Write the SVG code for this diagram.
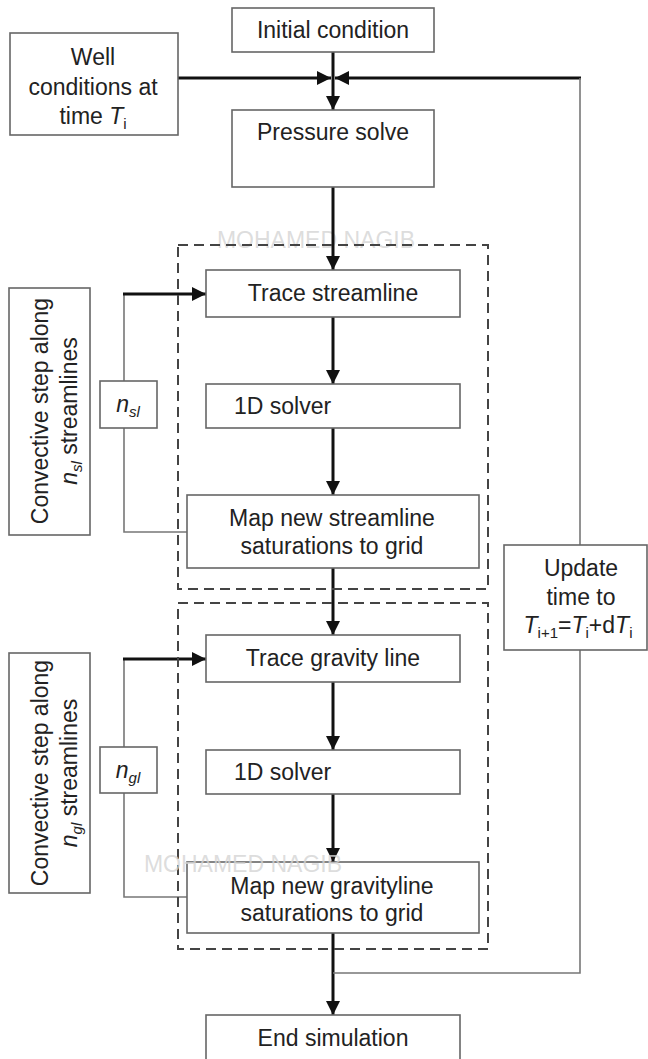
<svg xmlns="http://www.w3.org/2000/svg" width="648" height="1059" viewBox="0 0 648 1059">
<style>
.box{fill:#fff;stroke:#666;stroke-width:1.6}
.dash{fill:none;stroke:#444;stroke-width:2;stroke-dasharray:10,6}
.t{font-family:"Liberation Sans",Arial,sans-serif;font-size:23px;fill:#222}
.c{text-anchor:middle}
.thick{stroke:#111;stroke-width:3;fill:none}
.thin{stroke:#777;stroke-width:1.6;fill:none}
.wm{font-family:"Liberation Sans",Arial,sans-serif;font-size:23px;fill:#d4d4d4;fill-opacity:0.8}
.sub{font-size:15px}
</style>
<defs>
<marker id="ah" markerUnits="userSpaceOnUse" markerWidth="14" markerHeight="14" refX="14" refY="7" orient="auto">
<path d="M0,0 L14,7 L0,14 z" fill="#111"/>
</marker>
</defs>
<rect width="648" height="1059" fill="#fff"/>
<text class="wm" x="316" y="248" text-anchor="middle">MOHAMED NAGIB</text>
<g id="connectors">
<line class="thick" x1="333" y1="52" x2="333" y2="110" marker-end="url(#ah)"/>
<line class="thick" x1="178" y1="78" x2="331" y2="78" marker-end="url(#ah)"/>
<line class="thick" x1="581" y1="78" x2="335" y2="78" marker-end="url(#ah)"/>
<line class="thin" x1="580" y1="78" x2="580" y2="545"/>
<line class="thick" x1="333" y1="187" x2="333" y2="270" marker-end="url(#ah)"/>
<line class="thick" x1="333" y1="317" x2="333" y2="384" marker-end="url(#ah)"/>
<line class="thick" x1="333" y1="428" x2="333" y2="495" marker-end="url(#ah)"/>
<polyline class="thin" points="187,532 124,532 124,294"/>
<line class="thick" x1="123" y1="294" x2="206" y2="294" marker-end="url(#ah)"/>
<line class="thick" x1="333" y1="568" x2="333" y2="635" marker-end="url(#ah)"/>
<line class="thick" x1="333" y1="682" x2="333" y2="750" marker-end="url(#ah)"/>
<line class="thick" x1="333" y1="794" x2="333" y2="862" marker-end="url(#ah)"/>
<polyline class="thin" points="187,897 124,897 124,659"/>
<line class="thick" x1="123" y1="659" x2="206" y2="659" marker-end="url(#ah)"/>
<line class="thick" x1="333" y1="933" x2="333" y2="1015" marker-end="url(#ah)"/>
<polyline class="thin" points="580,650 580,973 333,973"/>
</g>
<g id="group1"><rect class="dash" x="178" y="245" width="310" height="344"/></g>
<g id="group2"><rect class="dash" x="178" y="603" width="310" height="346"/></g>
<g id="initial"><rect class="box" x="232" y="8" width="202" height="44"/><text class="t c" x="333" y="38">Initial condition</text></g>
<g id="well"><rect class="box" x="10" y="33" width="168" height="102"/>
<text class="t c" x="93" y="65">Well</text>
<text class="t c" x="93" y="95">conditions at</text>
<text class="t c" x="93" y="124">time <tspan font-style="italic">T</tspan><tspan class="sub" dy="5">i</tspan></text></g>
<g id="pressure"><rect class="box" x="232" y="110" width="202" height="77"/><text class="t c" x="333" y="140">Pressure solve</text></g>
<g id="trace-sl"><rect class="box" x="206" y="270" width="254" height="47"/><text class="t c" x="333" y="301">Trace streamline</text></g>
<g id="solver1"><rect class="box" x="206" y="384" width="254" height="44"/><text class="t" x="234" y="414">1D solver</text></g>
<g id="map-sl"><rect class="box" x="187" y="495" width="292" height="73"/>
<text class="t c" x="332" y="526">Map new streamline</text>
<text class="t c" x="332" y="554">saturations to grid</text></g>
<g id="nsl"><rect class="box" x="100" y="381" width="57" height="47"/><text class="t c" x="128" y="412"><tspan font-style="italic">n</tspan><tspan class="sub" font-style="italic" dy="5">sl</tspan></text></g>
<g id="conv1"><rect class="box" x="9" y="288" width="81" height="247"/>
<text class="t c" transform="translate(48,411) rotate(-90)">Convective step along</text>
<text class="t c" transform="translate(77,411) rotate(-90)"><tspan font-style="italic">n</tspan><tspan class="sub" font-style="italic" dy="5">sl</tspan><tspan dy="-5"> streamlines</tspan></text></g>
<g id="update"><rect class="box" x="504" y="545" width="143" height="105"/>
<text class="t c" x="581" y="576">Update</text>
<text class="t c" x="581" y="605">time to</text>
<text class="t c" x="578" y="633"><tspan font-style="italic">T</tspan><tspan class="sub" dy="5">i+1</tspan><tspan dy="-5">=</tspan><tspan font-style="italic">T</tspan><tspan class="sub" dy="5">i</tspan><tspan dy="-5">+d</tspan><tspan font-style="italic">T</tspan><tspan class="sub" dy="5">i</tspan></text></g>
<g id="trace-gl"><rect class="box" x="206" y="635" width="254" height="47"/><text class="t c" x="333" y="666">Trace gravity line</text></g>
<g id="solver2"><rect class="box" x="206" y="750" width="254" height="44"/><text class="t" x="234" y="780">1D solver</text></g>
<g id="map-gl"><rect class="box" x="187" y="862" width="292" height="71"/>
<text class="t c" x="332" y="894">Map new gravityline</text>
<text class="t c" x="332" y="921">saturations to grid</text></g>
<g id="ngl"><rect class="box" x="100" y="747" width="57" height="46"/><text class="t c" x="128" y="778"><tspan font-style="italic">n</tspan><tspan class="sub" font-style="italic" dy="5">gl</tspan></text></g>
<g id="conv2"><rect class="box" x="9" y="653" width="81" height="240"/>
<text class="t c" transform="translate(48,773) rotate(-90)">Convective step along</text>
<text class="t c" transform="translate(77,773) rotate(-90)"><tspan font-style="italic">n</tspan><tspan class="sub" font-style="italic" dy="5">gl</tspan><tspan dy="-5"> streamlines</tspan></text></g>
<g id="end"><rect class="box" x="206" y="1015" width="254" height="60"/><text class="t c" x="333" y="1046">End simulation</text></g>
<text class="wm" x="243" y="872" text-anchor="middle">MOHAMED NAGIB</text>
</svg>
